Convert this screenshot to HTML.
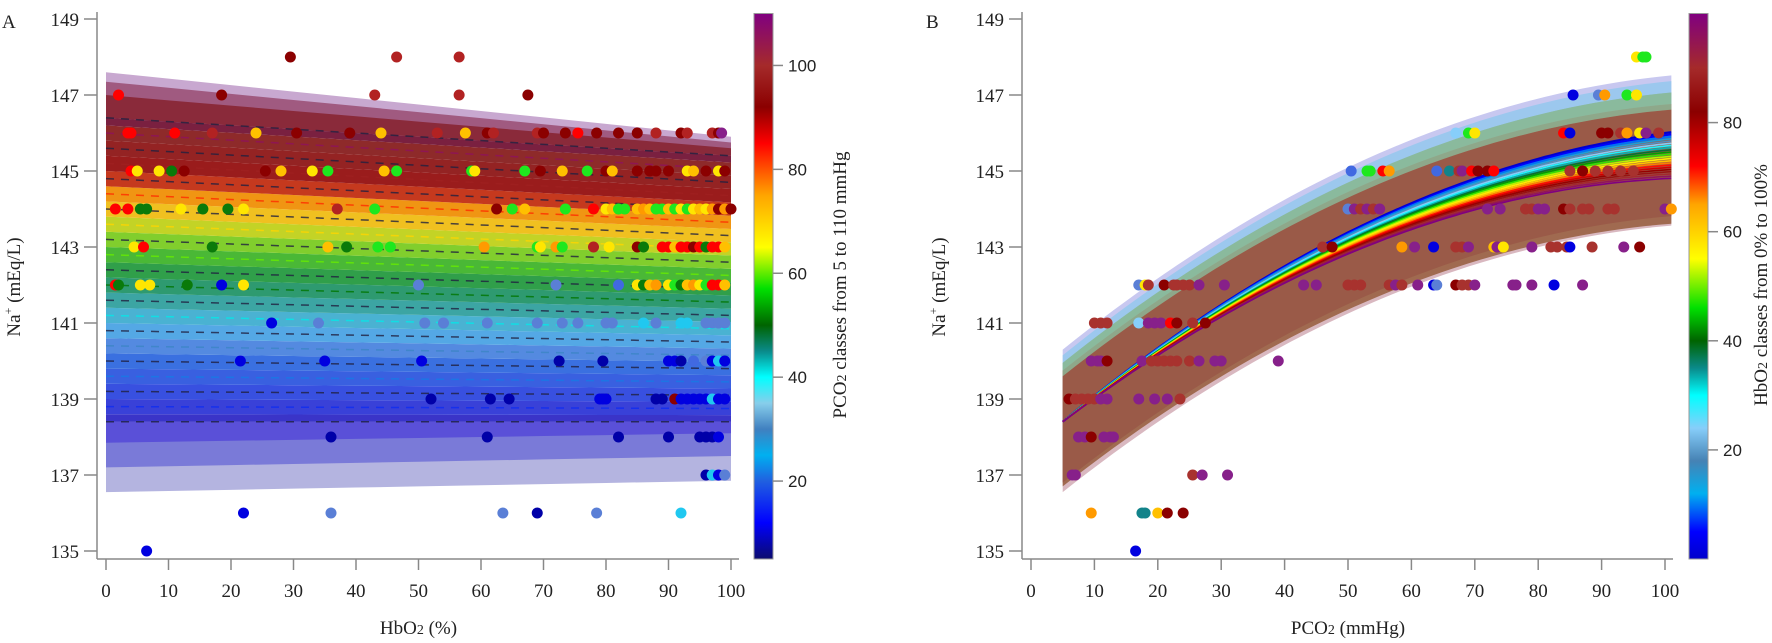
<!DOCTYPE html>
<html><head><meta charset="utf-8"><style>
html,body{margin:0;padding:0;background:#fff;}
svg{display:block;}
.t{font-family:"Liberation Serif",serif;font-size:19px;fill:#222;}
.s{font-family:"Liberation Sans",sans-serif;font-size:17px;fill:#222;}
</style></head><body>
<svg id="g" width="1772" height="643" xmlns="http://www.w3.org/2000/svg"></svg>
<script>
const NS="http://www.w3.org/2000/svg",G=document.getElementById('g');
function el(t,a,p){const e=document.createElementNS(NS,t);for(const k in a)e.setAttribute(k,a[k]);(p||G).appendChild(e);return e;}
function txt(s,a){const e=el('text',a);e.textContent=s;return e;}
function hx(c){return [parseInt(c.substr(1,2),16),parseInt(c.substr(3,2),16),parseInt(c.substr(5,2),16)];}
function grad(stops,v){for(let i=0;i<stops.length-1;i++){const[a,ca]=stops[i],[b,cb]=stops[i+1];if(v<=b||i==stops.length-2){let f=Math.max(0,Math.min(1,(v-a)/(b-a)));const A=hx(ca),B=hx(cb);return 'rgb('+A.map((x,j)=>Math.round(x+(B[j]-x)*f)).join(',')+')';}}}
function lin(tab,x){for(let i=0;i<tab.length-1;i++){const[a,va]=tab[i],[b,vb]=tab[i+1];if(x<=b||i==tab.length-2){const f=Math.max(0,Math.min(1,(x-a)/(b-a)));return va+(vb-va)*f;}}}
const SA=[[5,'#0b0b6e'],[12,'#0000ff'],[20,'#2060e0'],[25,'#00b0f0'],[30,'#4080c0'],[35,'#87ceeb'],[40,'#00ffff'],[45,'#0a8a8a'],[50,'#006400'],[57,'#00e000'],[65,'#ffff00'],[75,'#ffa500'],[85,'#ff0000'],[92,'#8b0000'],[100,'#a52a2a'],[110,'#800080']];
const SBAND=[[5,'#3a34c8'],[12,'#3848e0'],[18,'#3a70e0'],[25,'#5a90e0'],[33,'#50b8e8'],[38,'#40a8b0'],[45,'#2e9a70'],[50,'#30a040'],[57,'#5cc830'],[62,'#b8d828'],[70,'#f0c020'],[78,'#f08a10'],[86,'#c03020'],[92,'#9a1c1c'],[100,'#8e2a2a'],[110,'#7a2040']];
const SB=[[0,'#0000cc'],[5,'#0000ff'],[12,'#00b0f0'],[18,'#4682b4'],[24,'#87cefa'],[30,'#00ffff'],[35,'#0a8a8a'],[40,'#006400'],[46,'#00e000'],[55,'#ffff00'],[65,'#ffa500'],[72,'#ff0000'],[82,'#8b0000'],[90,'#a52a2a'],[100,'#800080']];
const NV=[[138.4,5],[139,12],[140,18],[140.5,25],[141,33],[141.5,38],[142,45],[142.5,50],[143,57],[143.5,62],[144,70],[144.5,78],[145,90],[146,100],[146.4,110]];
const Y=v=>551-(v-135)*38;
const XA=v=>106+v*6.25, XB=v=>1031+v*6.34;
const C={dr:'#8b0000',fb:'#b22222',r:'#ff0000',y:'#ffe600',gd:'#ffc000',o:'#ff9a00',g:'#1ee81e',dg:'#0a7a0a',b:'#0000e0',rb:'#4169e1',sb:'#5a7fd6',cy:'#20c8f0',db:'#0000a8',p:'#87208a',br:'#a8322e',lb:'#87cefa',tl:'#12838a'};

/* ---------- Panel A ---------- */
const N=21, LA=(t,x)=>138.4+8*t-1.0*t*x/100;
function poly(f1,f2,X,x0,x1,fill,op){let pts=[];for(let x=x0;x<=x1;x+=10)pts.push(X(x)+','+Y(f1(x)));for(let x=x1;x>=x0;x-=10)pts.push(X(x)+','+Y(f2(x)));el('polygon',{points:pts.join(' '),fill:fill,'fill-opacity':op});}
poly(x=>147.6-1.7*x/100,x=>LA(1,x),XA,0,100,'#c8a8d0',1);
poly(x=>147.35-1.6*x/100,x=>LA(1,x),XA,0,100,'#a05a80',1);
poly(x=>147.0-1.4*x/100,x=>LA(1,x),XA,0,100,'#8a2a3a',1);
poly(x=>LA(0,x),x=>136.55+0.3*x/100,XA,0,100,'#b4b4e0',1);
poly(x=>LA(0,x),x=>137.2+0.3*x/100,XA,0,100,'#7a7ad8',1);
poly(x=>LA(0,x),x=>137.85+0.25*x/100,XA,0,100,'#5a50d8',1);
for(let c=0;c<N;c++){const t=c/(N-1),v=lin(NV,LA(t,0));
 const lo=c==0?(x=>LA(0,x)):(x=>(LA(t,x)+LA((c-1)/(N-1),x))/2);
 const hi=c==N-1?(x=>LA(1,x)):(x=>(LA(t,x)+LA((c+1)/(N-1),x))/2);
 poly(hi,lo,XA,0,100,grad(SBAND,v),1);}
for(let c=0;c<N;c++){const t=c/(N-1),v=lin(NV,LA(t,0));
 el('line',{x1:XA(0),y1:Y(LA(t,0)),x2:XA(100),y2:Y(LA(t,100)),stroke:c%2?grad(SA,Math.min(110,v+6)):'#202040','stroke-opacity':0.8,'stroke-width':1.5,'stroke-dasharray':'8,7'});}
const PA={148:[[29.5,'dr'],[46.5,'fb'],[56.5,'fb']],
147:[[2,'r'],[18.5,'dr'],[43,'fb'],[56.5,'fb'],[67.5,'dr']],
146:[[3.5,'r'],[4,'r'],[11,'r'],[17,'fb'],[24,'gd'],[30.5,'dr'],[39,'dr'],[44,'gd'],[53,'fb'],[57.5,'gd'],[61,'dr'],[62,'fb'],[69,'fb'],[70,'dr'],[73.5,'dr'],[75.5,'r'],[78.5,'dr'],[82,'dr'],[85,'dr'],[88,'fb'],[92,'dr'],[93,'fb'],[97,'fb'],[98,'dr'],[98.5,'p']],
145:[[4,'r'],[5,'y'],[8.5,'y'],[10.5,'dg'],[12.5,'dr'],[25.5,'dr'],[28,'gd'],[33,'y'],[35.5,'g'],[44.5,'gd'],[46.5,'g'],[58.5,'g'],[59,'y'],[67,'g'],[69.5,'dr'],[73,'gd'],[77,'g'],[80,'dr'],[81,'gd'],[85,'dr'],[87,'dr'],[88,'dr'],[90,'dr'],[93,'y'],[94,'gd'],[96,'dr'],[98,'y'],[99,'dr']],
144:[[1.5,'r'],[3.5,'r'],[5.5,'dg'],[6.5,'dg'],[12,'y'],[15.5,'dg'],[19.5,'dg'],[22,'y'],[37,'fb'],[43,'g'],[62.5,'dr'],[65,'g'],[67,'gd'],[73.5,'g'],[78,'r'],[80,'y'],[81,'gd'],[82,'g'],[83,'g'],[85,'gd'],[86,'o'],[87,'gd'],[88,'g'],[89,'g'],[90,'gd'],[91,'g'],[92,'y'],[93,'g'],[94,'y'],[95,'gd'],[96,'y'],[97,'o'],[98,'dr'],[99,'o'],[100,'dr']],
143:[[4.5,'y'],[6,'r'],[17,'dg'],[35.5,'gd'],[38.5,'dg'],[43.5,'g'],[45.5,'g'],[60.5,'o'],[69,'g'],[69.5,'y'],[72,'o'],[73,'g'],[78,'fb'],[80.5,'y'],[85,'dr'],[86,'dg'],[89,'r'],[90,'r'],[91,'gd'],[92,'r'],[93,'r'],[94,'dr'],[95,'r'],[96,'dg'],[97,'r'],[98,'r'],[99,'gd']],
142:[[1.5,'r'],[2,'dg'],[5.5,'y'],[7,'y'],[13,'dg'],[18.5,'b'],[22,'y'],[50,'sb'],[72,'sb'],[82,'rb'],[85,'y'],[86,'dg'],[87,'gd'],[88,'o'],[90,'y'],[91,'g'],[92,'dg'],[93,'gd'],[94,'o'],[95,'y'],[96,'g'],[97,'r'],[98,'r'],[99,'gd']],
141:[[26.5,'b'],[34,'sb'],[51,'sb'],[54,'sb'],[61,'sb'],[69,'sb'],[73,'sb'],[75.5,'sb'],[80,'sb'],[81,'sb'],[86,'cy'],[88,'sb'],[92,'cy'],[93,'cy'],[96,'sb'],[97,'sb'],[98,'sb'],[99,'sb']],
140:[[21.5,'b'],[35,'b'],[50.5,'b'],[72.5,'db'],[79.5,'db'],[90,'b'],[91,'b'],[92,'db'],[94,'rb'],[96,'sb'],[97,'b'],[98,'cy'],[99,'b']],
139:[[52,'db'],[61.5,'db'],[64.5,'db'],[79,'b'],[79.5,'b'],[80,'b'],[88,'db'],[89,'db'],[91,'dr'],[92,'b'],[93,'b'],[94,'b'],[95,'b'],[96,'b'],[97,'cy'],[98,'b'],[99,'b']],
138:[[36,'db'],[61,'db'],[82,'db'],[90,'db'],[95,'db'],[96,'db'],[97,'db'],[98,'b']],
137:[[96,'db'],[97,'cy'],[98,'b'],[99,'sb']],
136:[[22,'b'],[36,'sb'],[63.5,'sb'],[69,'db'],[78.5,'sb'],[92,'cy']],
135:[[6.5,'b']]};
for(const k in PA)for(const[x,c]of PA[k])el('circle',{cx:XA(x),cy:Y(+k),r:5.5,fill:C[c]});

/* ---------- Panel B ---------- */
const fB=p=>138.4+0.1321*(p-5)-0.000615*(p-5)*(p-5);
const cur=(t,p)=>fB(p)+(0.6-1.2*t)*((p-5)/95)*1.0;
function band(off1,off2,fill,op){let pts=[];for(let p=5;p<=101;p+=2)pts.push(XB(p)+','+Y(fB(p)+off1(p)));for(let p=101;p>=5;p-=2)pts.push(XB(p)+','+Y(fB(p)+off2(p)));el('polygon',{points:pts.join(' '),fill:fill,'fill-opacity':op});}
const s=p=>(p-5)/95;
band(p=>1.9+0.2*s(p),p=>1.5,'#c8c8f0',1);
band(p=>1.75+0.2*s(p),p=>-1.3,'#9cc8ee',1);
band(p=>1.55+0.1*s(p),p=>-1.6,'#88c0a8',0.9);
band(p=>1.35,p=>-1.85,'#d9b8c0',1);
band(p=>1.35,p=>-1.7-0.1*s(p),'#a06a50',1);
band(p=>1.2,p=>-1.6,'#9a5a48',1);
band(p=>1.55+0.1*s(p),p=>1.2,'#8ab898',0.8);
for(let i=0;i<22;i++){const t=i/21,col=grad(SB,t*100);let d='';for(let p=5;p<=101;p+=1)d+=(p==5?'M':'L')+XB(p).toFixed(1)+','+Y(cur(t,p)).toFixed(1);el('path',{d:d,fill:'none',stroke:col,'stroke-width':t<0.1?2.2:1.6});}
const PB={148:[[95.5,'y'],[96.5,'g'],[97,'g']],
147:[[85.5,'b'],[89.5,'sb'],[90.5,'o'],[94,'g'],[95.5,'y']],
146:[[67,'lb'],[69,'g'],[70,'y'],[84,'r'],[85,'b'],[90,'dr'],[91,'dr'],[93,'br'],[94,'o'],[96,'y'],[97,'p'],[99,'br']],
145:[[50.5,'rb'],[53,'g'],[53.5,'g'],[55.5,'r'],[56.5,'o'],[64,'rb'],[66,'tl'],[67.5,'br'],[68,'p'],[69.5,'r'],[70.5,'dr'],[72,'dr'],[73,'r'],[85,'br'],[87,'dr'],[89,'br'],[91,'br'],[93,'br'],[95,'br']],
144:[[50,'sb'],[51,'p'],[52,'br'],[53,'p'],[54,'br'],[55,'p'],[72,'p'],[74,'p'],[78,'br'],[79,'br'],[80,'p'],[81,'p'],[84,'dr'],[85,'br'],[87,'br'],[88,'br'],[91,'br'],[92,'br'],[100,'p'],[101,'o']],
143:[[46,'br'],[47.5,'dr'],[58.5,'o'],[60.5,'p'],[63.5,'b'],[67,'br'],[68,'br'],[69,'p'],[73,'gd'],[73.5,'p'],[74.5,'y'],[79,'p'],[82,'br'],[83,'br'],[84.5,'br'],[85,'b'],[88.5,'br'],[93.5,'p'],[96,'dr']],
142:[[17,'sb'],[18,'y'],[18.5,'br'],[21,'dr'],[22.5,'br'],[23,'br'],[24,'br'],[25,'br'],[26.5,'p'],[30.5,'p'],[43,'p'],[45,'p'],[50,'br'],[51,'br'],[52,'br'],[56.5,'br'],[57.5,'p'],[58.5,'br'],[61,'p'],[63.5,'b'],[64,'sb'],[67,'dr'],[68,'br'],[69,'br'],[70,'p'],[76,'p'],[76.5,'p'],[79,'p'],[82.5,'b'],[87,'p']],
141:[[10,'br'],[11,'br'],[12,'br'],[17,'lb'],[18.5,'p'],[19.5,'p'],[20.5,'p'],[22,'r'],[23,'dr'],[25.5,'br'],[27.5,'dr']],
140:[[9.5,'p'],[10.5,'p'],[11,'p'],[12,'dr'],[17.5,'p'],[19,'br'],[20,'br'],[21,'br'],[22,'br'],[23,'br'],[25,'br'],[26.5,'p'],[29,'p'],[30,'p'],[39,'p']],
139:[[6,'dr'],[7,'br'],[8,'br'],[9,'br'],[10,'br'],[11,'p'],[12,'p'],[17,'p'],[19.5,'p'],[21.5,'p'],[23.5,'br']],
138:[[7.5,'p'],[8.5,'p'],[9.5,'dr'],[11.5,'p'],[12.5,'p'],[13,'p']],
137:[[6.5,'p'],[7,'p'],[25.5,'br'],[27,'p'],[31,'p']],
136:[[9.5,'o'],[17.5,'tl'],[18,'tl'],[20,'gd'],[21.5,'dr'],[24,'dr']],
135:[[16.5,'b']]};
for(const k in PB)for(const[x,c]of PB[k])el('circle',{cx:XB(x),cy:Y(+k),r:5.5,fill:C[c]});

/* ---------- Axes ---------- */
function axes(x0,xaxR,X,title,letter,lx){
 const ax='#888';
 el('line',{x1:x0,y1:12,x2:x0,y2:559,stroke:ax,'stroke-width':1.5});
 el('line',{x1:x0,y1:559,x2:xaxR,y2:559,stroke:ax,'stroke-width':1.5});
 for(let v=135;v<=149;v+=2){el('line',{x1:x0-13,y1:Y(v),x2:x0,y2:Y(v),stroke:ax,'stroke-width':1.5});txt(v,{x:x0-18,y:Y(v)+7,'text-anchor':'end',class:'t'});}
 for(let v=0;v<=100;v+=10){el('line',{x1:X(v),y1:559,x2:X(v),y2:570,stroke:ax,'stroke-width':1.5});txt(v,{x:X(v),y:597,'text-anchor':'middle',class:'t'});}
 txt('',{x:X(50),y:634,'text-anchor':'middle',class:'t','font-size':21}).innerHTML=title.a;
 const yl=txt('',{transform:`translate(${lx},287) rotate(-90)`,'text-anchor':'middle',class:'t','font-size':22});yl.innerHTML='Na<tspan dy="-8" font-size="12">+</tspan><tspan dy="8"> (mEq/L)</tspan>';
 txt(letter.s,{x:letter.x,y:28,class:'t','font-size':34});
}
axes(97,739,XA,{a:'HbO<tspan font-size="14">2</tspan> (%)'},{s:'A',x:2},20);
axes(1022,1673,XB,{a:'PCO<tspan font-size="14">2</tspan> (mmHg)'},{s:'B',x:926},945);

/* ---------- Colorbars ---------- */
function cbar(x,stops,vmin,vmax,ticks,id,lab,lx){
 const lg=el('linearGradient',{id:id,x1:0,y1:1,x2:0,y2:0});
 for(const[v,c]of stops)el('stop',{offset:((v-vmin)/(vmax-vmin)),'stop-color':c},lg);
 el('defs',{}).appendChild(lg);
 el('rect',{x:x,y:13.5,width:19,height:545.5,fill:`url(#${id})`,stroke:'#999','stroke-width':1});
 for(const v of ticks){const y=559-(v-vmin)/(vmax-vmin)*545.5;el('line',{x1:x+19,y1:y,x2:x+29,y2:y,stroke:'#888','stroke-width':1.5});txt(v,{x:x+34,y:y+6,class:'s'});}
 const t=txt('',{transform:`translate(${lx},285) rotate(-90)`,'text-anchor':'middle',class:'t','font-size':22});t.innerHTML=lab;
}
cbar(754,SA,5,110,[20,40,60,80,100],'ga','PCO<tspan font-size="14">2</tspan>  classes from 5 to 110 mmHg',846);
cbar(1689,SB,0,100,[20,40,60,80],'gb','HbO<tspan font-size="14">2</tspan> classes from 0% to 100%',1767);
</script>
</body></html>
